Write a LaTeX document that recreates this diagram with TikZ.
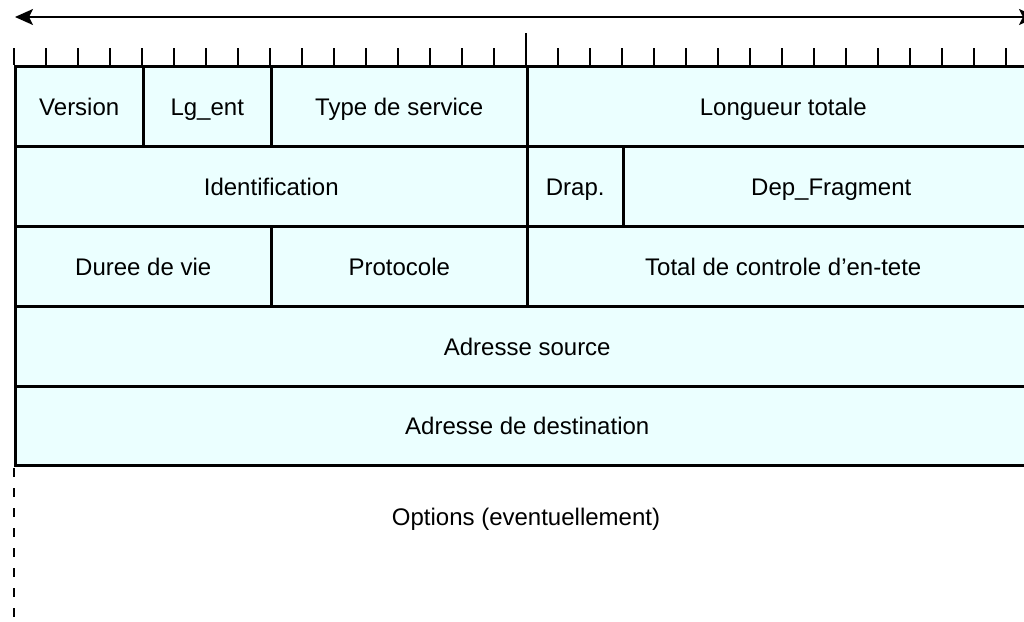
\documentclass[tikz,border=0pt]{standalone}
\usepackage{fontspec}
\setmainfont{Liberation Sans}
\usetikzlibrary{arrows.meta}
\definecolor{fieldfill}{RGB}{235,255,255}
\begin{document}
\begin{tikzpicture}[x=1pt,y=-1pt,
  label/.style={font=\fontsize{24}{28}\selectfont,text height=18pt,text depth=0pt,inner sep=0pt},
  field/.style={label,draw=black,line width=2.5pt,fill=fieldfill,rectangle,
     anchor=north west,minimum height=80pt},
  tick/.style={line width=1.6pt},
  bitarrow/.style={line width=1.7pt,{Stealth[length=18pt,width=16pt,inset=4pt]}-{Stealth[length=18pt,width=16pt,inset=4pt]}}]
\useasboundingbox (0,0) rectangle (1024,621);
\clip (0,0) rectangle (1024,621);
% fields
\node[field,minimum width=128pt] (version) at (14,65) {Version};
\node[field,minimum width=128pt] (lgent) at (142,65) {Lg\_ent};
\node[field,minimum width=256pt] (tos) at (270,65) {Type de service};
\node[field,minimum width=512pt] (lgtot) at (526,65) {Longueur totale};
\node[field,minimum width=512pt] (ident) at (14,145) {Identification};
\node[field,minimum width=96pt] (drap) at (526,145) {Drap.};
\node[field,minimum width=416pt] (depfrag) at (622,145) {Dep\_Fragment};
\node[field,minimum width=256pt] (ttl) at (14,225) {Duree de vie};
\node[field,minimum width=256pt] (proto) at (270,225) {Protocole};
\node[field,minimum width=512pt] (cksum) at (526,225) {Total de controle d’en-tete};
\node[field,minimum width=1024pt] (src) at (14,305) {Adresse source};
\node[field,minimum width=1024pt,minimum height=79pt] (dst) at (14,385) {Adresse de destination};
\node[label] (opt) at (526,516) {Options (eventuellement)};
% ticks
\foreach \i in {0,...,32}{
  \ifnum\i=16
    \draw[tick] (14+32*\i,33) -- (14+32*\i,65);
  \else
    \draw[tick] (14+32*\i,48) -- (14+32*\i,65);
  \fi
}
% arrow
\coordinate (aL) at (15,17);
\coordinate (aR) at (1037,17);
\draw[bitarrow] (aL) -- (aR);
% dashed options border
\coordinate (dtop) at (14,464);
\coordinate (dbot) at (14,621);
\draw[line width=1.8pt,dash pattern=on 9pt off 11pt,dash phase=-4pt] (dtop) -- (dbot);
\end{tikzpicture}
\end{document}
